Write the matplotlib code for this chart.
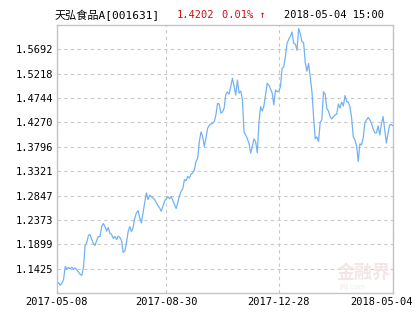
import matplotlib
matplotlib.use("Agg")
import matplotlib.pyplot as plt
import matplotlib.transforms as mtransforms

# fund net value, roughly one point per 1-2 trading days (2017-05-08 .. 2018-05-04)
nav = [
    1.1121, 1.1154, 1.1101, 1.1140, 1.1218, 1.1469, 1.1411, 1.1450, 1.1421, 1.1450,
    1.1421, 1.1440, 1.1392, 1.1363, 1.1314, 1.1295, 1.1450, 1.1876, 1.1934, 1.2070,
    1.2089, 1.1992, 1.1915, 1.1876, 1.1973, 1.2050, 1.2050, 1.2244, 1.2302, 1.2244,
    1.2153, 1.2225, 1.2109, 1.2089, 1.2012, 1.2050, 1.1992, 1.2056, 1.2031, 1.1973,
    1.1741, 1.1766, 1.1934, 1.2147, 1.2244, 1.2147, 1.2225, 1.2409, 1.2510, 1.2554,
    1.2413, 1.2316, 1.2515, 1.2709, 1.2897, 1.2767, 1.2854, 1.2825, 1.2800, 1.2767,
    1.2709, 1.2651, 1.2606, 1.2541, 1.2637, 1.2734, 1.2786, 1.2825, 1.2786, 1.2825,
    1.2748, 1.2670, 1.2593, 1.2709, 1.2845, 1.2928, 1.2980, 1.3155, 1.3135, 1.3218,
    1.3187, 1.3261, 1.3290, 1.3348, 1.3509, 1.3575, 1.3896, 1.4084, 1.3993, 1.3800,
    1.3962, 1.4156, 1.4210, 1.4239, 1.4253, 1.4284, 1.4414, 1.4640, 1.4627, 1.4452,
    1.4472, 1.4549, 1.4820, 1.4859, 1.4820, 1.4975, 1.5124, 1.4975, 1.4801, 1.5092,
    1.4840, 1.4878, 1.4723, 1.4084, 1.4026, 1.3949, 1.3865, 1.3672, 1.3794, 1.3949,
    1.3891, 1.3678, 1.4253, 1.4574, 1.4491, 1.4588, 1.4801, 1.5028, 1.4995, 1.4917,
    1.4840, 1.4607, 1.4898, 1.4865, 1.4878, 1.4962, 1.5318, 1.5349, 1.5556, 1.5802,
    1.5886, 1.5944, 1.6027, 1.5808, 1.5789, 1.5673, 1.6093, 1.5996, 1.5837, 1.5818,
    1.5431, 1.5266, 1.5415, 1.5155, 1.4878, 1.4381, 1.3949, 1.3987, 1.3896, 1.4268,
    1.4317, 1.4865, 1.4820, 1.4543, 1.4491, 1.4381, 1.4336, 1.4375, 1.4414, 1.4433,
    1.4627, 1.4549, 1.4665, 1.4588, 1.4791, 1.4671, 1.4665, 1.4569, 1.4355, 1.3987,
    1.3929, 1.3813, 1.3509, 1.3852, 1.3832, 1.3968, 1.4259, 1.4317, 1.4365, 1.4317,
    1.4249, 1.4142, 1.4065, 1.4065, 1.4201, 1.4026, 1.4239, 1.4381, 1.4123, 1.3865,
    1.4059, 1.4220, 1.4230, 1.4202,
]

y_ticks = [1.1425, 1.1899, 1.2373, 1.2847, 1.3321, 1.3796, 1.4270, 1.4744, 1.5218, 1.5692]
x_labels = ["2017-05-08", "2017-08-30", "2017-12-28", "2018-05-04"]
x_label_idx = [0, 66, 134, len(nav) - 1]

fund_name = "天弘食品A[001631]"
last_value = "1.4202"
change = "0.01% ↑"
stamp = "2018-05-04 15:00"

mono = ["DejaVu Sans Mono", "Noto Sans CJK SC"]
fs = 7.5

fig = plt.figure(figsize=(4.15, 3.3), dpi=100)
ax = fig.add_axes([0.1373, 0.1121, 0.8097, 0.8121])

ax.plot(range(len(nav)), nav, color="#72b2f2", linewidth=0.9)

ax.set_xlim(0, len(nav) - 1)
ax.set_ylim(1.0951, 1.6163)

ax.set_yticks(y_ticks)
ax.set_yticklabels([f"{v:.4f}" for v in y_ticks], family=mono, fontsize=fs)
ax.set_xticks(x_label_idx)
ax.set_xticklabels(x_labels, family=mono, fontsize=fs)

ax.tick_params(length=0, pad=3, colors="black")
ax.grid(True, linestyle=(0, (3, 3)), color="#c8c8c8", linewidth=0.8)
for s in ax.spines.values():
    s.set_color("#c4c4c4")
    s.set_linewidth(1.0)

# last date label is pushed left so it stays inside the figure
lab = ax.get_xticklabels()[-1]
lab.set_transform(lab.get_transform() + mtransforms.ScaledTranslation(-12 / 100, 0, fig.dpi_scale_trans))

# header line
fig.text(55 / 415, 1 - 15 / 330, fund_name, family=mono, fontsize=fs + 0.5, va="center", ha="left")
fig.text(177 / 415, 1 - 15 / 330, last_value, family=mono, fontsize=fs, va="center", ha="left", color="#cc1111")
fig.text(222 / 415, 1 - 15 / 330, change, family=mono, fontsize=fs, va="center", ha="left", color="#cc1111")
fig.text(284 / 415, 1 - 15 / 330, stamp, family=mono, fontsize=fs, va="center", ha="left")

# faint watermark
fig.text(364 / 415, 1 - 272 / 330, "金融界", family=["Noto Sans CJK SC"], fontsize=13,
         fontweight="bold", color="#f3e6e6", ha="center", va="center", zorder=0)
fig.text(352 / 415, 1 - 287 / 330, "JRJ.com", family=["DejaVu Sans"], fontsize=5,
         color="#f3e6e6", ha="center", va="center", zorder=0)

fig.savefig("out.png", dpi=100)
